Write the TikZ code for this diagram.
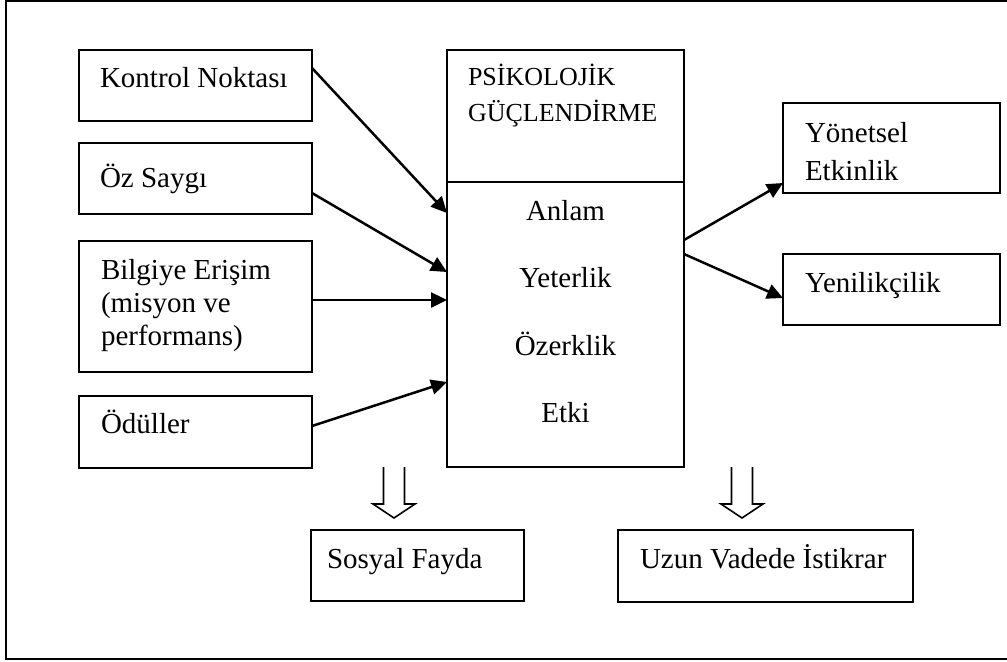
\documentclass[tikz,border=0pt]{standalone}
\usepackage{fontspec}
\setmainfont{Liberation Serif}
\usetikzlibrary{calc,arrows.meta}
\begin{document}
\begin{tikzpicture}[x=0.5pt,y=-0.5pt,
  bx/.style 2 args={draw, line width=1.2pt, minimum width=#1*0.5pt, minimum height=#2*0.5pt, inner sep=0pt, outer sep=0pt},
  txt/.style={inner sep=0pt, outer sep=0pt, font=\fontsize{14.5}{16.5}\selectfont, align=left},
  hdr/.style={inner sep=0pt, outer sep=0pt, font=\fontsize{13}{18}\selectfont, align=left},
  arr/.style={line width=1.25pt, -{Triangle[length=8pt,width=7.5pt]}},
  hol/.style={line width=0.8pt, line join=miter}]
\useasboundingbox (0,0) rectangle (1007,661);
% outer frame
\draw[line width=1.4pt] (1015,1) -- (6,1) -- (6,659) -- (1015,659);
% boxes
\node[bx={233}{71}] (kontrol) at (195.5,85.5) {};
\node[bx={233}{71}] (oz) at (195.5,178.5) {};
\node[bx={233}{131}] (bilgi) at (195.5,306.5) {};
\node[bx={233}{72}] (odul) at (195.5,432) {};
\node[bx={237}{132}] (pgtop) at (565.5,116) {};
\node[bx={237}{285}] (pgbot) at (565.5,324.5) {};
\node[bx={217}{90}] (yonetsel) at (891.5,148) {};
\node[bx={217}{71}] (yenilik) at (891.5,289.5) {};
\node[bx={213}{71}] (sosyal) at (417.5,565.5) {};
\node[bx={295}{72}] (uzun) at (765.5,566) {};
% texts (multi-line nodes: base = last line)
\node[txt, anchor=base west] (tk) at (100,87) {Kontrol Noktası};
\node[txt, anchor=base west] (to) at (100,187) {Öz Saygı};
\node[txt, anchor=base west] (tb) at (101,345) {Bilgiye Erişim\\(misyon ve\\performans)};
\node[txt, anchor=base west] (td) at (101,433) {Ödüller};
\node[hdr, anchor=base west] (th) at (468,121) {PSİKOLOJİK\\GÜÇLENDİRME};
\node[txt, anchor=base] (t1) at (565.5,220) {Anlam};
\node[txt, anchor=base] (t2) at (565.5,287) {Yeterlik};
\node[txt, anchor=base] (t3) at (565.5,355) {Özerklik};
\node[txt, anchor=base] (t4) at (565.5,422) {Etki};
\node[txt, anchor=base west, font=\fontsize{14.5}{19}\selectfont] (ty) at (805,180) {Yönetsel\\Etkinlik};
\node[txt, anchor=base west] (tn) at (805,292) {Yenilikçilik};
\node[txt, anchor=base west] (ts) at (327,568) {Sosyal Fayda};
\node[txt, anchor=base west] (tu) at (640,568) {Uzun Vadede İstikrar};
% connectors
\draw[arr] ($(kontrol.east)+(0,-17.5)$) -- ($(pgbot.west)+(0,-111.5)$);
\draw[arr] ($(oz.east)+(0,14.5)$) -- ($(pgbot.west)+(0,-52.5)$);
\draw[arr] ($(bilgi.east)+(0,-6.5)$) -- ($(pgbot.west)+(0,-24.5)$);
\draw[arr] ($(odul.east)+(0,-6)$) -- ($(pgbot.west)+(0,57.5)$);
\draw[arr] ($(pgbot.east)+(0,-84.5)$) -- ($(yonetsel.west)+(0,35)$);
\draw[arr] ($(pgbot.east)+(0,-70.5)$) -- ($(yenilik.west)+(0,8.5)$);
% hollow arrows
\foreach \c in {394,742}{
  \draw[hol] (\c-10.5,467) -- (\c-10.5,504) -- (\c-21,504) -- (\c,518) -- (\c+21,504) -- (\c+10.5,504) -- (\c+10.5,467);
}
\end{tikzpicture}
\end{document}
